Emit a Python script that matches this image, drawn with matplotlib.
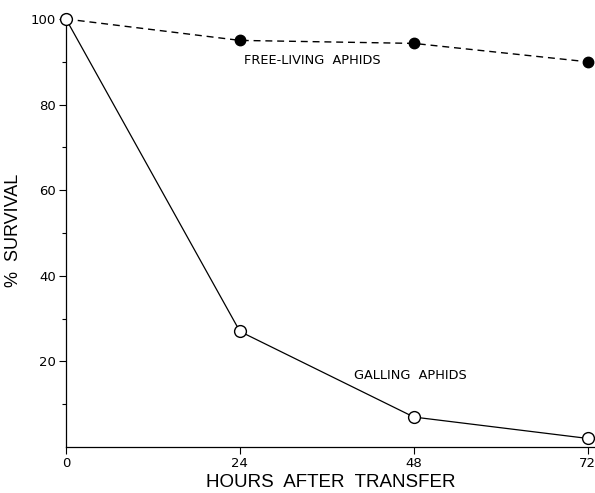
import matplotlib.pyplot as plt

hours = [0, 24, 48, 72]
galling = [100, 27, 7, 2]
free_living = [100, 95, 94.3, 90]


def main():
    plt.rcParams['font.family'] = ['DejaVu Sans']
    fig = plt.figure(figsize=(5.95, 4.93), dpi=100)
    ax = fig.add_axes([66 / 595, 46 / 493, 529 / 595, 428 / 493])

    # survival curves
    ax.plot(hours, free_living, color='black', linestyle=(0, (5, 3.5)), linewidth=1.0,
            marker='o', markersize=7.5, markerfacecolor='black', zorder=3, clip_on=False)
    ax.plot(hours, galling, color='black', linewidth=0.9,
            marker='o', markersize=8.5, markerfacecolor='white',
            markeredgewidth=1.0, zorder=4, clip_on=False)

    ax.text(24.5, 90.3, 'FREE-LIVING  APHIDS', fontsize=9.3, va='center', ha='left')
    ax.text(39.7, 16.8, 'GALLING  APHIDS', fontsize=9.3, va='center', ha='left')

    ax.set_xlim(0, 73)
    ax.set_ylim(0, 100)
    ax.set_xticks(hours)
    ax.set_yticks([20, 40, 60, 80, 100])
    ax.set_yticks([10, 30, 50, 70, 90], minor=True)
    ax.tick_params(axis='both', which='major', direction='out', length=5, width=0.8,
                   labelsize=9.5, pad=2)
    ax.tick_params(axis='y', which='minor', direction='out', length=3, width=0.8)

    for side in ['top', 'right']:
        ax.spines[side].set_visible(False)
    ax.spines['left'].set_linewidth(0.9)
    ax.spines['bottom'].set_linewidth(0.9)

    ax.set_xlabel('HOURS  AFTER  TRANSFER', fontsize=13.5, family='Liberation Sans',
                  labelpad=3)
    ax.set_ylabel('%  SURVIVAL', fontsize=13, family='Liberation Sans')
    ax.yaxis.set_label_coords(-44 / 529, 0.507)

    fig.savefig('out.png', dpi=100)
    plt.close(fig)


if __name__ == "__main__":
    main()
